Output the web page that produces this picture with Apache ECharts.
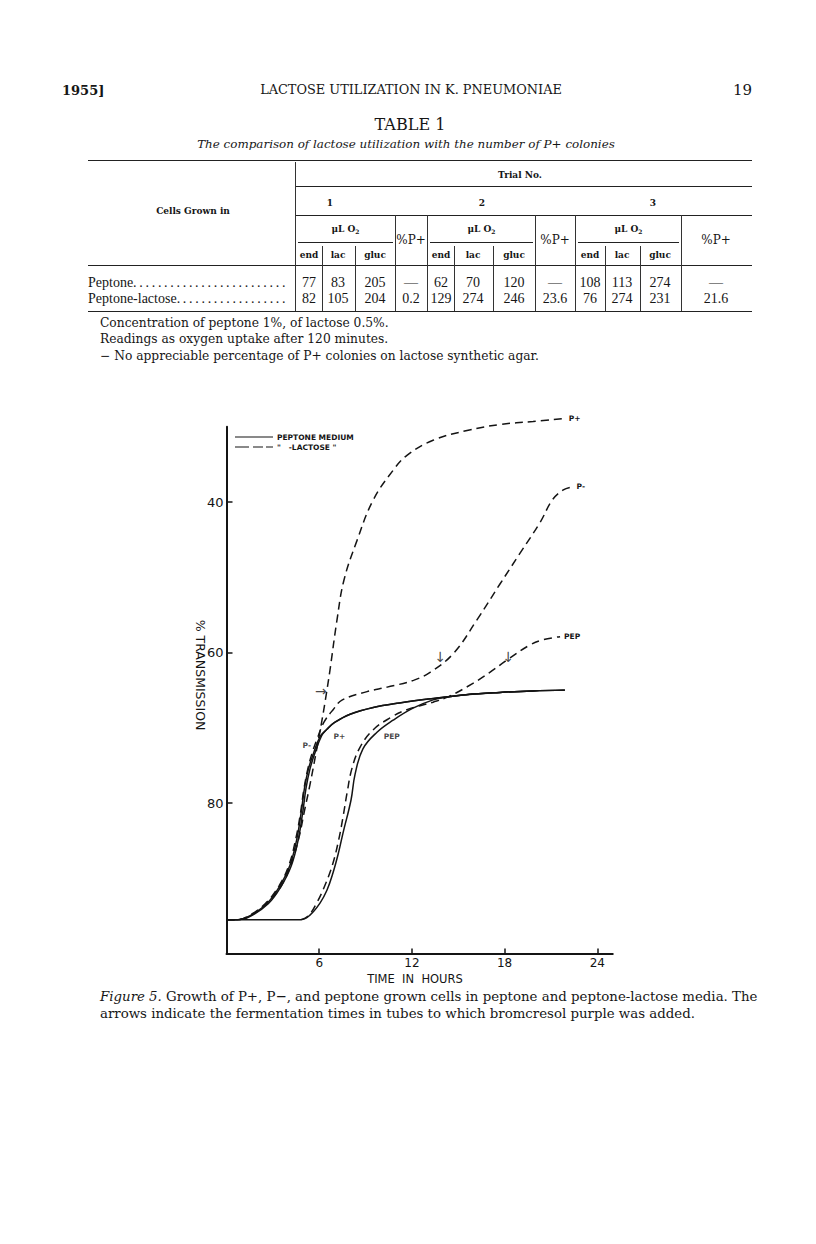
<!DOCTYPE html>
<html><head><meta charset="utf-8">
<script src="https://cdn.jsdelivr.net/npm/echarts@6/dist/echarts.min.js"></script>
<style>
html,body{margin:0;padding:0;background:#fff;}
#page{position:relative;width:816px;height:1244px;overflow:hidden;font-family:"DejaVu Serif","Liberation Serif",serif;color:#161616;}
.t{position:absolute;white-space:nowrap;line-height:1;}
.c{transform:translate(-50%,-50%);}
.l{transform:translate(0,-50%);}
.r{transform:translate(-100%,-50%);}
.hl{position:absolute;height:0;border-top:1px solid #222;}
.vl{position:absolute;width:0;border-left:1px solid #333;}
.sm{font-size:9px;font-weight:bold;}
.num{font-family:"Liberation Serif",serif;font-size:14px;}
#chart{position:absolute;left:0;top:400px;width:816px;height:600px;}
</style></head>
<body><div id="page">
<div class="t l" style="left:62px;top:90px;font-size:13px;font-weight:bold;">1955]</div>
<div class="t c fit" data-w="302" style="left:411px;top:90px;font-size:14px;">LACTOSE UTILIZATION IN K. PNEUMONIAE</div>
<div class="t r" style="left:752px;top:90px;font-size:15px;">19</div>
<div class="t c fit" data-w="71" style="left:410px;top:125px;font-size:13px;">TABLE 1</div>
<div class="t c fit" data-w="418" style="left:406px;top:145px;font-size:12px;font-style:italic;">The comparison of lactose utilization with the number of P+ colonies</div>
<div id="table"></div>
<div class="t l note" style="left:100px;top:323px;font-size:12px;">Concentration of peptone 1%, of lactose 0.5%.</div>
<div class="t l note" style="left:100px;top:339px;font-size:12px;">Readings as oxygen uptake after 120 minutes.</div>
<div class="t l note fit" data-w="439" data-group="note" style="left:100px;top:356px;font-size:12px;">&minus; No appreciable percentage of P+ colonies on lactose synthetic agar.</div>
<div id="chart"></div>
<div class="t l cap fit" data-w="658" data-group="cap" style="left:100px;top:997px;font-size:13px;"><i>Figure 5.</i> Growth of P+, P&minus;, and peptone grown cells in peptone and peptone-lactose media. The</div>
<div class="t l cap" style="left:100px;top:1014px;font-size:13px;">arrows indicate the fermentation times in tubes to which bromcresol purple was added.</div>
</div>
<script>
// ---------- table data ----------
const rowNames = ['Peptone', 'Peptone-lactose'];
const trialNos = ['1', '2', '3'];
const subCols = ['end', 'lac', 'gluc'];
const peptoneVals = ['77', '83', '205', '\u2014', '62', '70', '120', '\u2014', '108', '113', '274', '\u2014'];
const lactoseVals = ['82', '105', '204', '0.2', '129', '274', '246', '23.6', '76', '274', '231', '21.6'];

// ---------- chart data (time in hours, % transmission) ----------
const xTicks = [6, 12, 18, 24];
const yTicks = [40, 60, 80];
const pPlusLactose = [[0,95.5],[0.8,95.5],[1.6,94.9],[2.7,93.2],[3.6,90.8],[4.2,88.0],[4.7,84.5],[5.05,81.0],[5.4,77.6],[5.86,72.6],[6.18,69.0],[6.4,66.3],[6.7,62.3],[7.15,55.7],[7.6,50.4],[8.45,45.1],[9.48,39.8],[10.78,35.8],[11.68,33.8],[13.37,31.8],[15.57,30.5],[17.7,29.7],[19.84,29.3],[21.9,28.9]];
const pMinusLactose = [[0,95.5],[0.7,95.5],[1.5,94.9],[2.5,93.4],[3.4,91.0],[4.05,88.2],[4.5,84.6],[4.8,81.2],[5.0,78.3],[5.25,75.6],[5.55,73.3],[5.9,71.3],[6.3,69.3],[6.9,67.6],[7.5,66.3],[9.1,65.2],[10.4,64.6],[12.1,63.7],[13.2,62.6],[14.7,60.1],[16.2,55.7],[17.7,50.9],[19.0,46.8],[20.3,42.7],[21.1,39.7],[21.8,38.4],[22.4,38.0]];
const pepLactose = [[4.82,95.5],[5.3,95.0],[5.86,93.2],[6.4,90.8],[6.89,88.0],[7.25,85.0],[7.54,81.9],[7.8,78.7],[8.12,75.4],[8.64,72.6],[9.48,70.3],[10.58,68.7],[11.68,67.6],[13.37,66.6],[14.34,65.9],[15.95,64.1],[17.0,62.7],[18.16,61.0],[19.64,59.0],[20.5,58.3],[21.59,57.9]];
const pPlusPeptone = [[0,95.5],[0.8,95.5],[1.6,95.0],[2.7,93.4],[3.5,91.2],[4.2,88.3],[4.65,84.8],[4.95,81.0],[5.15,78.0],[5.4,75.5],[5.7,73.5],[6.15,71.1],[6.5,70.2],[7.0,69.3],[8.0,68.2],[9.5,67.3],[11.2,66.7],[13.4,66.1],[15.5,65.6],[17.7,65.3],[19.8,65.1],[21.9,65.0]];
const pMinusPeptone = [[0,95.5],[0.7,95.5],[1.5,95.0],[2.6,93.4],[3.4,91.2],[4.1,88.3],[4.55,84.8],[4.85,81.0],[5.05,78.0],[5.3,75.5],[5.6,73.6],[6.05,71.2],[6.5,70.2],[7.0,69.3],[8.0,68.2],[9.5,67.3],[11.2,66.7],[13.4,66.1],[15.5,65.6],[17.7,65.3],[19.8,65.1],[21.9,65.0]];
const pepPeptone = [[0,95.5],[4.82,95.5],[5.4,94.9],[6.05,93.3],[6.5,91.6],[6.89,89.3],[7.25,86.6],[7.54,84.0],[8.06,79.6],[8.32,76.2],[8.83,72.8],[9.74,70.6],[10.78,69.0],[12.07,67.4],[13.37,66.3],[14.27,65.9],[15.5,65.6],[17.7,65.3],[19.8,65.1],[21.9,65.0]];
const curveLabels = [[5.2, 72.4, 'P-'], [7.3, 71.2, 'P+'], [10.7, 71.2, 'PEP']];
const arrowMarks = [[6.1, 65.1, '\u2192'], [13.85, 60.6, '\u2193'], [18.25, 60.6, '\u2193']];
const legendNames = ['PEPTONE MEDIUM', '"   -LACTOSE "'];

// ---------- build table ----------
(function () {
  const T = document.getElementById('table');
  let h = '';
  const hl = (x1, x2, y, w) => `<div class="hl" style="left:${x1}px;width:${x2 - x1}px;top:${y}px;border-top-width:${w || 1}px"></div>`;
  const vl = (x, y1, y2) => `<div class="vl" style="left:${x}px;top:${y1}px;height:${y2 - y1}px"></div>`;
  const txt = (x, y, s, cls, st) => `<div class="t ${cls}" style="left:${x}px;top:${y}px;${st || ''}">${s}</div>`;
  h += hl(88, 752, 160, 1.5);
  h += hl(296, 752, 186);
  h += hl(296, 752, 215);
  h += hl(88, 752, 265, 1.5);
  h += hl(88, 752, 311, 1.5);
  h += vl(295, 162, 311);
  const groupStart = [296, 428, 576];
  const groupUL = [395, 535, 681];
  const subLines = [[322, 355], [454, 493], [605, 640]];
  const colX = [309, 338, 375, 411, 441, 473, 514, 555, 590, 622, 660, 716];
  const groupCenters = [330, 482, 653];
  h += txt(520, 175, 'Trial No.', 'c sm');
  h += txt(193, 211, 'Cells Grown in', 'c sm');
  for (let g = 0; g < 3; g++) {
    h += txt(groupCenters[g], 203, trialNos[g], 'c sm');
    h += hl(groupStart[g] + 2, groupUL[g] - 2, 242);
    h += txt((groupStart[g] + groupUL[g]) / 2, 230, '\u03bcL O<sub style="font-size:6px">2</sub>', 'c sm');
    h += txt(colX[g * 4 + 3], 240, '%P+', 'c', 'font-size:12px');
    if (g > 0) h += vl(groupStart[g] - 1, 215, 311);
    h += vl(groupUL[g], 215, 311);
    for (let s = 0; s < 2; s++) h += vl(subLines[g][s], 246, 311);
    for (let s = 0; s < 3; s++) h += txt(colX[g * 4 + s], 255, subCols[s], 'c sm');
  }
  const rowsY = [283, 299];
  [peptoneVals, lactoseVals].forEach((vals, r) => {
    h += `<div class="t l num rowname" style="left:88px;top:${rowsY[r]}px;">${rowNames[r]}<span class="dots" style="letter-spacing:2.7px"></span></div>`;
    vals.forEach((v, i) => { h += txt(colX[i], rowsY[r], v, 'c num'); });
  });
  T.innerHTML = h;
  document.querySelectorAll('.rowname').forEach(el => {
    const sp = el.querySelector('.dots');
    let n = 0;
    while (n < 80) {
      sp.textContent = '.'.repeat(n + 1);
      if (el.getBoundingClientRect().right > 291) { sp.textContent = '.'.repeat(n); break; }
      n++;
    }
  });
})();

// ---------- fit text widths (same size for sibling lines) ----------
document.querySelectorAll('.fit').forEach(el => {
  const target = +el.dataset.w;
  const fs = parseFloat(el.style.fontSize);
  const w = el.getBoundingClientRect().width;
  if (w > 0) {
    const nf = (fs * target / w).toFixed(2) + 'px';
    el.style.fontSize = nf;
    if (el.dataset.group) document.querySelectorAll('.' + el.dataset.group).forEach(s => s.style.fontSize = nf);
  }
});

// ---------- chart ----------
const chart = echarts.init(document.getElementById('chart'), null, { renderer: 'svg' });
const ink = '#141414';
const sans = 'DejaVu Sans';
function curve(name, data, dashed, endText) {
  const s = {
    type: 'line', name: name, data: data, symbol: 'none', showSymbol: false,
    smooth: 0.4, clip: false, silent: true,
    lineStyle: { color: ink, width: 1.5, type: dashed ? [8, 5] : 'solid' },
    itemStyle: { color: ink }
  };
  if (endText) s.endLabel = { show: true, formatter: endText, distance: 4, fontSize: 7.5, fontWeight: 'bold', fontFamily: sans, color: ink };
  return s;
}
function textSeries(items, size, weight) {
  return {
    type: 'scatter', symbol: 'circle', symbolSize: 1, silent: true, clip: false,
    itemStyle: { color: 'rgba(0,0,0,0)' },
    data: items.map(d => ({ value: [d[0], d[1]], label: { formatter: d[2] } })),
    label: { show: true, position: 'inside', fontSize: size, fontWeight: weight, fontFamily: sans, color: ink }
  };
}
chart.setOption({
  animation: false,
  grid: { left: 226.5, top: 26.75, width: 386.25, height: 526.75, containLabel: false },
  legend: {
    orient: 'vertical', left: 230, top: 28, itemWidth: 38, itemHeight: 1.5, itemGap: 2,
    selectedMode: false,
    data: [
      { name: legendNames[0], icon: 'path://M0,0H38V1H0Z' },
      { name: legendNames[1], icon: 'path://M0,0H14V1H0Z M18,0H28V1H18Z M31,0H38V1H31Z' }
    ],
    itemStyle: { color: ink, borderWidth: 0 },
    textStyle: { fontSize: 7.5, fontWeight: 'bold', fontFamily: sans, color: ink, padding: [0, 0, 0, -1] }
  },
  xAxis: {
    type: 'value', min: 0, max: 25, splitLine: { show: false },
    axisLine: { lineStyle: { color: ink, width: 2 } },
    axisTick: { inside: true, length: 5, customValues: xTicks, lineStyle: { color: ink, width: 1.5 } },
    axisLabel: { customValues: xTicks, margin: 3, fontSize: 12, fontFamily: sans, color: ink }
  },
  yAxis: {
    type: 'value', inverse: true, min: 30, max: 100, splitLine: { show: false },
    axisLine: { lineStyle: { color: ink, width: 2 } },
    axisTick: { inside: true, length: 6, customValues: yTicks, lineStyle: { color: ink, width: 1.5 } },
    axisLabel: { customValues: yTicks, margin: 3, fontSize: 13, fontFamily: sans, color: ink }
  },
  graphic: [
    { type: 'text', x: 200, y: 275, rotation: -Math.PI / 2,
      style: { text: '% TRANSMISSION', fontSize: 12.5, fontFamily: sans, fill: ink, align: 'center', verticalAlign: 'middle' } },
    { type: 'text', x: 415, y: 579,
      style: { text: 'TIME  IN  HOURS', fontSize: 11.5, fontFamily: sans, fill: ink, align: 'center', verticalAlign: 'middle' } }
  ],
  series: [
    curve(legendNames[0], pMinusPeptone, false),
    curve(legendNames[0], pPlusPeptone, false),
    curve(legendNames[0], pepPeptone, false),
    curve(legendNames[1], pPlusLactose, true, 'P+'),
    curve(legendNames[1], pMinusLactose, true, 'P-'),
    curve(legendNames[1], pepLactose, true, 'PEP'),
    textSeries(curveLabels, 7.5, 'bold'),
    textSeries(arrowMarks, 14, 'normal')
  ]
});
</script>
</body></html>
